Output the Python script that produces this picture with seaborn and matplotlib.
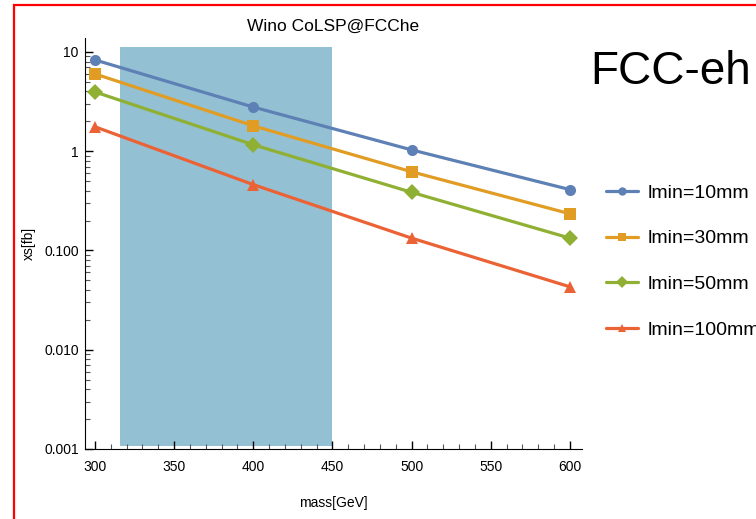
import pandas as pd
import seaborn as sns
import matplotlib.pyplot as plt
from matplotlib.patches import Rectangle
from matplotlib.ticker import FixedLocator, FixedFormatter, MultipleLocator, LogLocator, NullFormatter

# values
mass = [300, 400, 500, 600]
xs_10 = [8.3, 2.78, 1.03, 0.41]
xs_30 = [6.0, 1.80, 0.62, 0.234]
xs_50 = [3.95, 1.16, 0.385, 0.133]
xs_100 = [1.76, 0.46, 0.133, 0.043]
labels = ["lmin=10mm", "lmin=30mm", "lmin=50mm", "lmin=100mm"]
colors = ["#5E81B5", "#E19C24", "#8FB032", "#EB6235"]
markers = ["o", "s", "D", "^"]
band = (316, 450)  # shaded mass window

rows = []
for lab, vals in zip(labels, [xs_10, xs_30, xs_50, xs_100]):
    for m, v in zip(mass, vals):
        rows.append({"mass": m, "xs": v, "lmin": lab})
df = pd.DataFrame(rows)

sns.set_style("ticks")
plt.rcParams['font.family'] = ['Liberation Sans', 'DejaVu Sans']
plt.rcParams['text.color'] = 'black'
plt.rcParams['axes.labelcolor'] = 'black'
plt.rcParams['xtick.color'] = 'black'
plt.rcParams['ytick.color'] = 'black'
plt.rcParams['axes.edgecolor'] = 'black'

fig = plt.figure(figsize=(7.56, 5.19), dpi=100)
ax = fig.add_axes([85 / 756, 1 - 449 / 519, (582 - 85) / 756, (449 - 38) / 519])

ax.add_patch(Rectangle((band[0], 0.00107), band[1] - band[0], 11.2 - 0.00107,
                       color="#94C0D4", lw=0, zorder=0))

sns.lineplot(data=df, x="mass", y="xs", hue="lmin", style="lmin",
             markers=markers, dashes=False, palette=colors, ax=ax,
             linewidth=2.3, markersize=8, markeredgewidth=0, zorder=3)

ax.set_yscale("log")
ax.set_xlim(293.7, 607.6)
ax.set_ylim(0.001, 13.8)

ax.yaxis.set_major_locator(FixedLocator([0.001, 0.01, 0.1, 1, 10]))
ax.yaxis.set_major_formatter(FixedFormatter(["0.001", "0.010", "0.100", "1", "10"]))
ax.yaxis.set_minor_locator(LogLocator(base=10, subs=range(2, 10)))
ax.yaxis.set_minor_formatter(NullFormatter())
ax.xaxis.set_major_locator(MultipleLocator(50))
ax.xaxis.set_minor_locator(MultipleLocator(10))
ax.tick_params(which="both", direction="in", labelsize=10)
ax.tick_params(which="major", length=6, width=1)
ax.tick_params(which="minor", length=3.5, width=0.8, color="#555555")
ax.tick_params(axis="x", pad=8)
ax.tick_params(axis="y", pad=4.5)
sns.despine(ax=ax)

ax.set_xlabel("mass[GeV]", fontsize=10, labelpad=16)
ax.set_ylabel("xs[fb]", fontsize=10, labelpad=6)
ax.set_title("Wino CoLSP@FCChe", fontsize=12.5, pad=5)

handles, labs = ax.get_legend_handles_labels()
for h in handles:
    h.set_markersize(6)
ax.legend(handles, labs, loc="upper left", bbox_to_anchor=(606 / 756, 1 - 184 / 519),
          bbox_transform=fig.transFigure, frameon=False, fontsize=14,
          handlelength=1.65, handletextpad=0.5, labelspacing=1.45, borderpad=0,
          borderaxespad=0)

fig.text(590 / 756, 1 - 72 / 519, "FCC-eh", fontsize=33, va="center", ha="left")

# red frame around the figure
fig.patches.append(Rectangle((14 / 756, -0.1), 1.2, 1 - 5 / 519 + 0.1,
                             transform=fig.transFigure, fill=False,
                             edgecolor="red", lw=1.6))

fig.savefig("out.png", dpi=100)
